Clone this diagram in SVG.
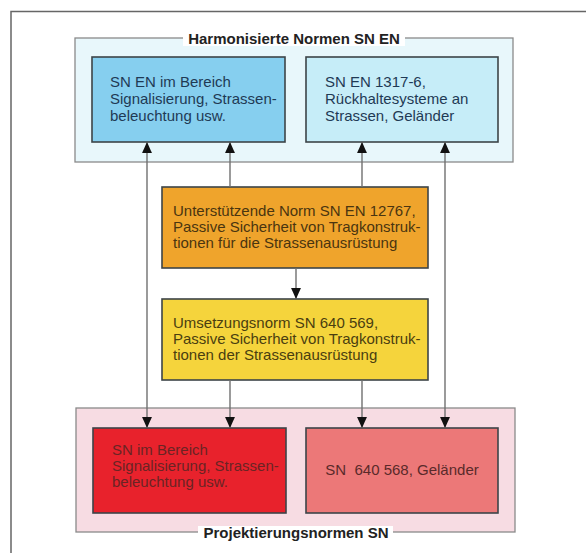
<svg xmlns="http://www.w3.org/2000/svg" width="586" height="553" viewBox="0 0 586 553">
<defs>
<marker id="ah" viewBox="0 0 10 10" refX="10" refY="5" markerWidth="11" markerHeight="11" markerUnits="userSpaceOnUse" orient="auto-start-reverse">
<path d="M0,0.5 L10,5 L0,9.5 z" fill="#111"/>
</marker>
<style>
.t{font-family:"Liberation Sans",Arial,sans-serif;font-size:15px}
.h{font-family:"Liberation Sans",Arial,sans-serif;font-size:15px;font-weight:bold;fill:#222}
.grp{stroke:#8a8a8a;stroke-width:1.3}
.box{stroke:#3c4448;stroke-width:1.6}
.c{stroke:#707070;stroke-width:1.4;fill:none}
</style>
</defs>
<rect width="586" height="553" fill="#fff"/>
<path d="M11,553 L11,11.5 L586,11.5" fill="none" stroke="#666" stroke-width="1.5"/>

<g id="grp-harmonisiert">
<rect class="grp" x="75" y="38" width="438" height="124" fill="#e8f7fb"/>
<rect x="183" y="30" width="222" height="16" fill="#fff"/>
<text class="h" x="294" y="44" text-anchor="middle">Harmonisierte Normen SN EN</text>
</g>
<g id="grp-projektierung">
<rect class="grp" x="76" y="408" width="439" height="124" fill="#f7dce3"/>
<rect x="198" y="526" width="195" height="16" fill="#fff"/>
<text class="h" x="296" y="538" text-anchor="middle">Projektierungsnormen SN</text>
</g>

<g id="n-sn-en-signal">
<rect class="box" x="92" y="57" width="193" height="85" fill="#86cfef"/>
<text class="t" fill="#1f3a55"><tspan x="110" y="87">SN EN im Bereich</tspan><tspan x="110" y="104">Signalisierung, Strassen-</tspan><tspan x="110" y="121">beleuchtung usw.</tspan></text>
</g>
<g id="n-sn-en-1317">
<rect class="box" x="306" y="57" width="192" height="85" fill="#c6edf8"/>
<text class="t" fill="#1f3a55"><tspan x="325" y="87">SN EN 1317-6,</tspan><tspan x="325" y="104">Rückhaltesysteme an</tspan><tspan x="325" y="121">Strassen, Geländer</tspan></text>
</g>
<g id="n-en-12767">
<rect class="box" x="162" y="187" width="266" height="81" fill="#efa42c"/>
<text class="t" fill="#4a3510"><tspan x="173" y="216">Unterstützende Norm SN EN 12767,</tspan><tspan x="173" y="232">Passive Sicherheit von Tragkonstruk-</tspan><tspan x="173" y="248">tionen für die Strassenausrüstung</tspan></text>
</g>
<g id="n-sn-640569">
<rect class="box" x="162" y="299" width="266" height="81" fill="#f5d43c"/>
<text class="t" fill="#4a3e10"><tspan x="173" y="328">Umsetzungsnorm SN 640 569,</tspan><tspan x="173" y="344">Passive Sicherheit von Tragkonstruk-</tspan><tspan x="173" y="360">tionen der Strassenausrüstung</tspan></text>
</g>
<g id="n-sn-signal">
<rect class="box" x="93" y="428" width="193" height="85" fill="#e8222c"/>
<text class="t" fill="#6a2424"><tspan x="112" y="455">SN im Bereich</tspan><tspan x="112" y="471">Signalisierung, Strassen-</tspan><tspan x="112" y="487">beleuchtung usw.</tspan></text>
</g>
<g id="n-sn-640568">
<rect class="box" x="306" y="428" width="192" height="85" fill="#ec7878"/>
<text class="t" fill="#5a2a2a" x="402" y="475" text-anchor="middle" xml:space="preserve">SN  640 568, Geländer</text>
</g>

<g id="connectors">
<line class="c" x1="147" y1="142" x2="147" y2="428" marker-start="url(#ah)" marker-end="url(#ah)"/>
<line class="c" x1="445" y1="142" x2="445" y2="428" marker-start="url(#ah)" marker-end="url(#ah)"/>
<line class="c" x1="230" y1="187" x2="230" y2="142" marker-end="url(#ah)"/>
<line class="c" x1="362" y1="187" x2="362" y2="142" marker-end="url(#ah)"/>
<line class="c" x1="296" y1="268" x2="296" y2="299" marker-end="url(#ah)"/>
<line class="c" x1="230" y1="380" x2="230" y2="428" marker-end="url(#ah)"/>
<line class="c" x1="362" y1="380" x2="362" y2="428" marker-end="url(#ah)"/>
</g>
</svg>
